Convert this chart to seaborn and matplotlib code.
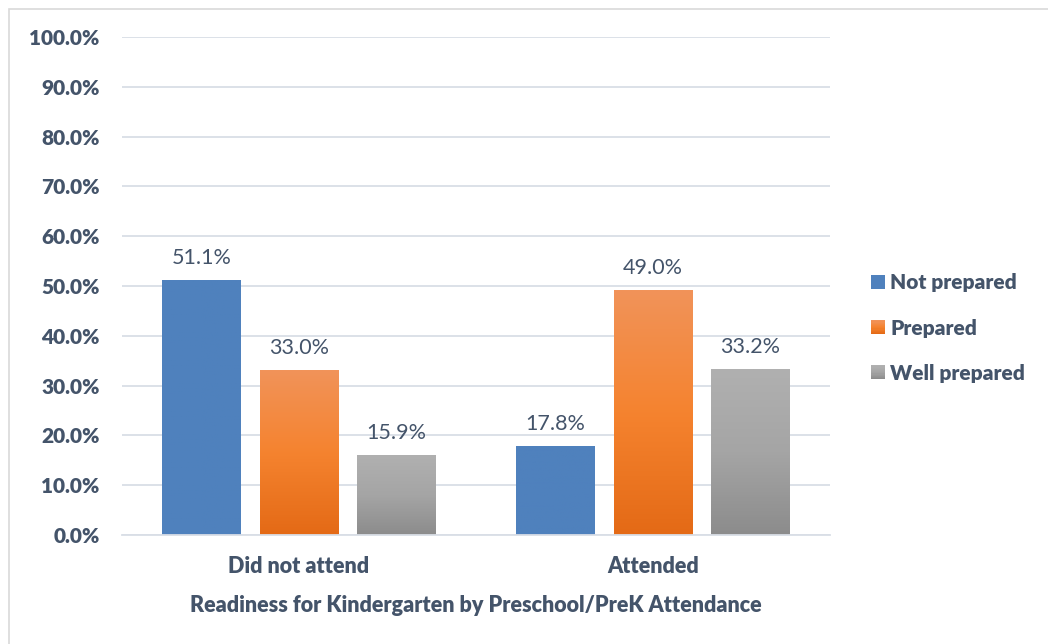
import numpy as np
import pandas as pd
import matplotlib
matplotlib.use("Agg")
import matplotlib.pyplot as plt
import seaborn as sns
from matplotlib.patches import Rectangle
from matplotlib.legend_handler import HandlerBase
from matplotlib.colors import LinearSegmentedColormap

# data
attendance = ["Did not attend", "Attended"]
levels = ["Not prepared", "Prepared", "Well prepared"]
not_prepared = [0.511, 0.178]
prepared = [0.330, 0.490]
well_prepared = [0.159, 0.332]
y_ticks = [0.0, 0.1, 0.2, 0.3, 0.4, 0.5, 0.6, 0.7, 0.8, 0.9, 1.0]
x_title = "Readiness for Kindergarten by Preschool/PreK Attendance"

df = pd.DataFrame({
    "attendance": attendance * 3,
    "level": [levels[0]] * 2 + [levels[1]] * 2 + [levels[2]] * 2,
    "share": not_prepared + prepared + well_prepared,
})

txt = "#44546A"
grid_c = "#D9DEE6"
heavy = 800
# top -> bottom colours for each series
grads = {
    "Not prepared": ["#4F81BD", "#4F81BD"],
    "Prepared": ["#F19359", "#F5832F", "#E46A16"],
    "Well prepared": ["#B0B0B0", "#A5A5A5", "#8C8C8C"],
}

sns.set_style("white")
plt.rcParams["font.family"] = ["Lato", "DejaVu Sans"]

fig = plt.figure(figsize=(10.48, 6.44), dpi=100)
ax = fig.add_axes([122 / 1048, 109 / 644, 708 / 1048, 498 / 644])

sns.barplot(data=df, x="attendance", y="share", hue="level", order=attendance,
            hue_order=levels, palette=[grads[l][0] for l in levels],
            width=0.826, gap=0.195, legend=False, ax=ax)

# gradient fill on bars
for lvl, cont in zip(levels, ax.containers):
    cmap = LinearSegmentedColormap.from_list(lvl, grads[lvl][::-1])
    for bar in cont:
        x0, w, h = bar.get_x(), bar.get_width(), bar.get_height()
        grad = np.linspace(1, 0, 100).reshape(-1, 1)
        ax.imshow(grad, cmap=cmap, vmin=0, vmax=1, aspect="auto",
                  extent=[x0, x0 + w, 0, h], zorder=bar.get_zorder() + 0.1)
        bar.set_edgecolor("none")
    ax.bar_label(cont, labels=[f"{v * 100:.1f}%" for v in cont.datavalues],
                 padding=9, fontsize=15.5, color=txt)

ax.set_xlim(-0.5, 1.5)
ax.set_ylim(0, 1.0)

ax.set_yticks(y_ticks)
ax.set_yticklabels([f"{t * 100:.1f}%" for t in y_ticks], fontsize=15,
                   fontweight=heavy, color=txt)
ax.set_xticks(range(len(attendance)))
ax.set_xticklabels(attendance, fontsize=15.5, fontweight=heavy, color=txt)
ax.tick_params(axis="y", length=0, pad=16)
ax.tick_params(axis="x", length=0, pad=15)
ax.yaxis.grid(True, color=grid_c, linewidth=1.3)
ax.set_axisbelow(True)
for s in ["top", "right", "left"]:
    ax.spines[s].set_visible(False)
ax.spines["bottom"].set_color(grid_c)
ax.spines["bottom"].set_linewidth(1.3)
ax.set_ylabel("")
ax.set_xlabel(x_title, fontsize=15.5, fontweight=heavy, color=txt, labelpad=13)


class GradHandler(HandlerBase):
    def __init__(self, colors):
        super().__init__()
        self.colors = colors

    def create_artists(self, legend, orig_handle, xdescent, ydescent, width,
                       height, fontsize, trans):
        cmap = LinearSegmentedColormap.from_list("g", self.colors)
        n = 12
        arts = []
        for i in range(n):
            r = Rectangle((-xdescent, -ydescent + height * i / n), width,
                          height / n + 0.2, facecolor=cmap(1 - i / (n - 1)),
                          edgecolor="none", transform=trans)
            arts.append(r)
        return arts


handles = [Rectangle((0, 0), 1, 1) for _ in levels]
leg = fig.legend(handles, levels, loc="center left",
                 bbox_to_anchor=(861 / 1048, (644 - 328) / 644),
                 frameon=False, fontsize=15, labelspacing=1.25,
                 handlelength=0.66, handleheight=0.66, handletextpad=0.25,
                 borderpad=0,
                 handler_map={h: GradHandler(grads[l]) for h, l in zip(handles, levels)})
for t in leg.get_texts():
    t.set_color(txt)
    t.set_fontweight(heavy)

# outer chart border
fig.patches.append(Rectangle((9 / 1048, -0.1), 1.2, (644 - 9) / 644 + 0.1,
                             transform=fig.transFigure, fill=False,
                             edgecolor="#D9D9D9", linewidth=1.2))

fig.savefig("out.png", dpi=100)
